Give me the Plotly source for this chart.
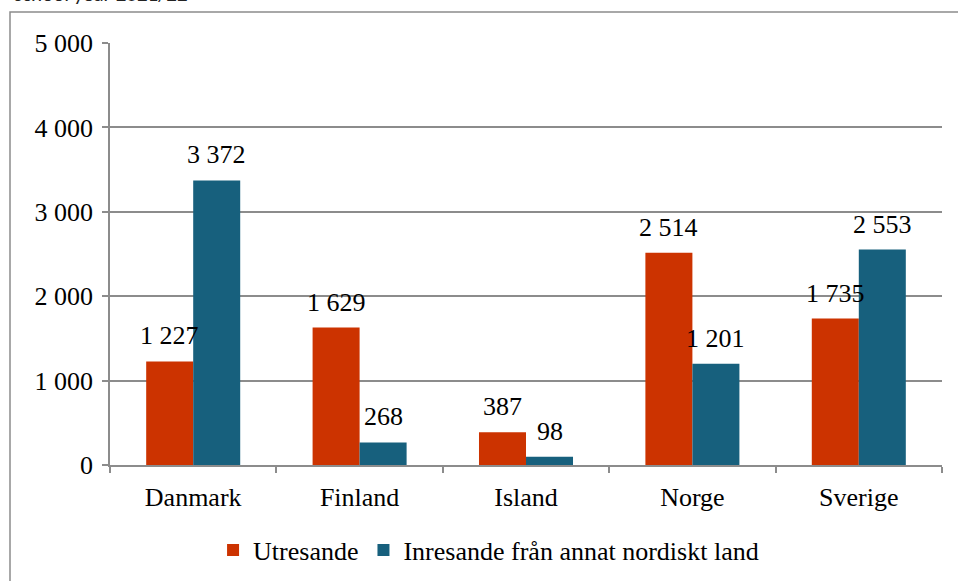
import plotly.graph_objects as go

countries = ["Danmark", "Finland", "Island", "Norge", "Sverige"]
utresande = [1227, 1629, 387, 2514, 1735]
inresande = [3372, 268, 98, 1201, 2553]
series_names = ["Utresande", "Inresande från annat nordiskt land"]
y_ticks = [0, 1000, 2000, 3000, 4000, 5000]

RED = "#CC3300"
BLUE = "#17607D"
GRID = "#8C8C8C"
FONT = "'Liberation Serif', 'Times New Roman', Times, serif"
FS = 26

W, H = 958, 581
L, R, T, B = 110, 16, 43, 116
pw, ph = W - L - R, H - T - B
BARW = 47  # px, half-group offset for labels

fig = go.Figure()
for name, vals, col in [(series_names[0], utresande, RED), (series_names[1], inresande, BLUE)]:
    fig.add_trace(go.Bar(
        x=countries, y=vals, name=name, marker_color=col,
        marker_line_width=0,
    ))

def px_x(x):
    return (x - L) / pw

def px_y(y):
    return 1 - (y - T) / ph

annotations = []
for vals, shift in [(utresande, -BARW / 2), (inresande, BARW / 2)]:
    for c, v in zip(countries, vals):
        annotations.append(dict(x=c, y=v, xref="x", yref="y", text=f"{v:,}".replace(",", " "),
                                showarrow=False, xshift=shift, yshift=9, yanchor="bottom",
                                font=dict(family=FONT, size=FS, color="black")))

annotations.append(dict(text="school year 2021/22", xref="paper", yref="paper",
                        x=px_x(12), y=px_y(9), xanchor="left", yanchor="bottom",
                        showarrow=False, font=dict(family="Carlito, 'Liberation Sans', sans-serif", size=21, color="#222222")))

fig.update_layout(
    width=W, height=H,
    margin=dict(l=L, r=R, t=T, b=B, autoexpand=False),
    paper_bgcolor="white", plot_bgcolor="white",
    separators=", ",
    barmode="group", bargap=0.435, bargroupgap=0,
    font=dict(family=FONT, size=FS, color="black"),
    showlegend=True,
    legend=dict(orientation="h", x=0.455, xanchor="center", y=px_y(550), yanchor="middle",
                font=dict(family=FONT, size=FS), itemwidth=30, traceorder="normal"),
    xaxis=dict(showline=True, linecolor=GRID, linewidth=1.5, ticks="outside", tickson="boundaries",
               ticklen=6, tickcolor=GRID, tickwidth=1.5, ticklabelstandoff=8,
               tickfont=dict(family=FONT, size=FS), showgrid=False, automargin=False),
    yaxis=dict(range=[0, 5000], tickvals=y_ticks, tickformat=",d", showline=True, linecolor=GRID,
               linewidth=1.5, ticks="outside", ticklen=6, tickcolor=GRID, tickwidth=1.5,
               ticklabelstandoff=4, showgrid=True, gridcolor=GRID, gridwidth=1.5,
               zeroline=False, tickfont=dict(family=FONT, size=FS), automargin=False),
    shapes=[dict(type="rect", xref="paper", yref="paper",
                 x0=px_x(10), x1=px_x(W + 20), y0=px_y(12), y1=px_y(H + 20),
                 line=dict(color=GRID, width=1.5), fillcolor="rgba(0,0,0,0)", layer="below")],
    annotations=annotations,
)

fig.write_html("out.html", config={"displayModeBar": False},
               post_script="document.body.style.margin='0';document.body.style.overflow='hidden';")
